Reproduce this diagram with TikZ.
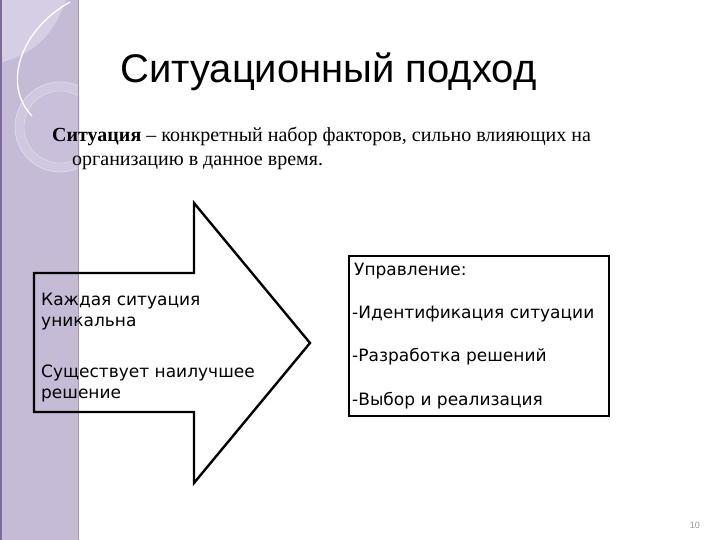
\documentclass[tikz,border=0pt]{standalone}
\usepackage{fontspec}
\setmainfont{Liberation Serif}
\newfontfamily\titlefont{Liberation Sans}
\newfontfamily\boxfont{DejaVu Sans}
\definecolor{bandpurple}{RGB}{197,187,214}
\definecolor{leafpurple}{RGB}{214,206,228}
\definecolor{ringpurple}{RGB}{208,199,224}
\definecolor{ringinner}{RGB}{201,191,218}
\definecolor{edgepurple}{RGB}{125,105,155}
\definecolor{pagegray}{RGB}{150,150,150}
\tikzset{
  shapeline/.style={draw=black, line width=2.4pt, line join=miter},
  boxtext/.style={anchor=base west, inner sep=0pt, font=\boxfont\fontsize{17}{20}\selectfont},
}
\begin{document}
\begin{tikzpicture}[x=1pt,y=-1pt]
\useasboundingbox (0,0) rectangle (720,540);
\fill[white] (0,0) rectangle (720,540);
% decorative band
\fill[bandpurple] (0,0) rectangle (79,540);
\begin{scope}
  \clip (0,0) rectangle (79,540);
  \fill[leafpurple] (0,0) -- (66,0) .. controls (55,30) and (40,52) .. (0,63) -- cycle;
  \fill[ringpurple] (60,127) circle (45);
  \fill[ringinner] (60,127) circle (36);
  \draw[white, opacity=0.5, line width=0.6pt] (60,127) circle (45);
  \draw[white, opacity=0.4, line width=0.6pt] (60,127) circle (36);
  \draw[white, line width=1.3pt] (70,2) .. controls (20,30) and (2,85) .. (32,116);
\end{scope}
\draw[edgepurple, line width=1.5pt] (1,0) -- (1,540);
\draw[bandpurple!80!black, line width=0.8pt] (78.6,0) -- (78.6,540);
% title
\node[anchor=base west, inner sep=0pt, font=\titlefont\fontsize{40}{44}\selectfont] (title) at (120,83) {Ситуационный подход};
% definition
\node[anchor=base west, inner sep=0pt, font=\fontsize{20}{23}\selectfont] (def1) at (52,142) {\textbf{Ситуация} – конкретный набор факторов, сильно влияющих на};
\node[anchor=base west, inner sep=0pt, font=\fontsize{20}{23}\selectfont] (def2) at (72,166) {организацию в данное время.};
% arrow
\draw[shapeline] (34,273) -- (194,273) -- (194,203) -- (310,343) -- (194,483) -- (194,412) -- (34,412) -- cycle;
\node[boxtext] (l1) at (41,305) {Каждая ситуация};
\node[boxtext] (l2) at (41,326) {уникальна};
\node[boxtext] (l3) at (41,377) {Существует наилучшее};
\node[boxtext] (l4) at (41,398) {решение};
% right box
\draw[shapeline] (349,256) rectangle (609,416);
\node[boxtext] (r1) at (354,275) {Управление:};
\node[boxtext] (r2) at (352,318) {-Идентификация ситуации};
\node[boxtext] (r3) at (352,361) {-Разработка решений};
\node[boxtext] (r4) at (352,405) {-Выбор и реализация};
% page number
\node[anchor=base east, inner sep=0pt, text=pagegray, font=\titlefont\fontsize{9}{10}\selectfont] (pg) at (700,528) {10};
\end{tikzpicture}
\end{document}
